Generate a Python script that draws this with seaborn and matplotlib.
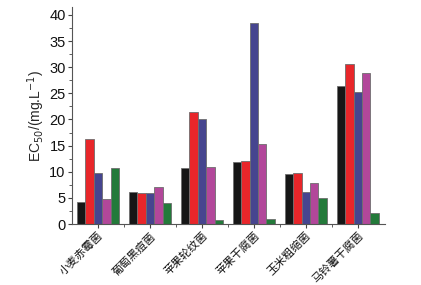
import matplotlib
matplotlib.use("Agg")
import matplotlib.pyplot as plt
from matplotlib.ticker import MultipleLocator, FixedLocator
import numpy as np
import pandas as pd
import seaborn as sns

# pathogens on the x axis
categories = ["小麦赤霉菌", "葡萄黑痘菌", "苹果轮纹菌", "苹果干腐菌", "玉米粗缩菌", "马铃薯干腐菌"]
# five compounds (no legend in the original figure)
series = ["S1", "S2", "S3", "S4", "S5"]
s1 = [4.2, 6.1, 10.8, 11.9, 9.6, 26.4]
s2 = [16.2, 6.0, 21.5, 12.1, 9.8, 30.6]
s3 = [9.8, 6.0, 20.1, 38.5, 6.1, 25.3]
s4 = [4.7, 7.1, 11.0, 15.4, 7.9, 28.8]
s5 = [10.7, 4.0, 0.8, 1.0, 4.9, 2.1]
colors = ["#161616", "#e8262a", "#46458f", "#b2479a", "#237a3a"]

rows = []
for name, vals in zip(series, [s1, s2, s3, s4, s5]):
    for cat, v in zip(categories, vals):
        rows.append({"pathogen": cat, "compound": name, "EC50": v})
df = pd.DataFrame(rows)

sns.set_style("ticks")
plt.rcParams["font.family"] = ["Liberation Sans", "Noto Sans CJK SC", "DejaVu Sans"]

fig = plt.figure(figsize=(4.21, 2.85), dpi=100)
ax = fig.add_axes([0.171, 0.214, 0.743, 0.761])

sns.barplot(
    data=df, x="pathogen", y="EC50", hue="compound",
    order=categories, hue_order=series, palette=colors,
    saturation=1, width=0.81, edgecolor="#6e6e6e", linewidth=0.6,
    legend=False, ax=ax,
)

ax.set_xlim(-0.5, 5.52)
ax.set_ylim(0, 41.5)
ax.yaxis.set_major_locator(MultipleLocator(5))
ax.yaxis.set_minor_locator(MultipleLocator(2.5))
ax.xaxis.set_minor_locator(FixedLocator(np.arange(0.5, 5.5, 1)))

ax.set_xlabel("")
ax.set_ylabel("EC$_{50}$/(mg.L$^{-1}$)", fontsize=10, labelpad=2)
ax.tick_params(axis="y", which="major", length=3, width=0.8, labelsize=10.5, pad=1.5)
ax.tick_params(axis="y", which="minor", length=2, width=0.6)
ax.tick_params(axis="x", which="major", length=3, width=0.8, pad=1.5)
ax.tick_params(axis="x", which="minor", length=2, width=0.6)
ax.set_xticks(range(len(categories)))
ax.set_xticklabels(categories, rotation=45, ha="right", rotation_mode="anchor",
                   fontsize=8, family=["Noto Sans CJK SC", "DejaVu Sans"])

for side in ["top", "right"]:
    ax.spines[side].set_visible(False)
for side in ["left", "bottom"]:
    ax.spines[side].set_color("#555555")
    ax.spines[side].set_linewidth(0.8)
ax.tick_params(colors="#444444", which="both")
for lbl in ax.get_xticklabels() + ax.get_yticklabels():
    lbl.set_color("#111111")

fig.savefig("out.png", dpi=100)
plt.close(fig)
